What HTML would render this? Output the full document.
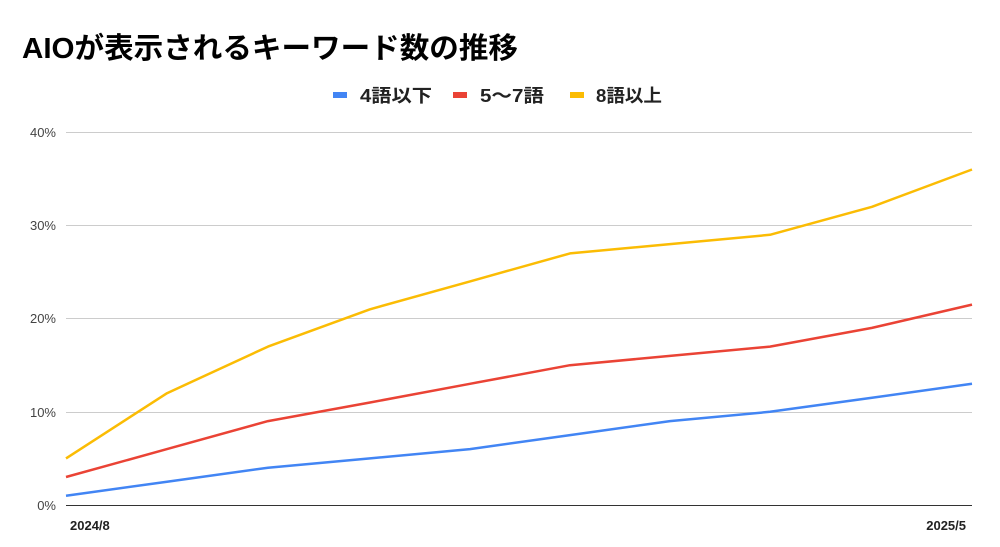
<!DOCTYPE html>
<html><head><meta charset="utf-8"><style>
body{margin:0;background:#fff;}
svg text{font-family:"Liberation Sans","Noto Sans CJK JP",sans-serif;}
</style></head><body>
<svg width="1000" height="542" viewBox="0 0 1000 542" xmlns="http://www.w3.org/2000/svg">
<rect width="1000" height="542" fill="#fff"/>
<text x="22" y="58" font-size="29" font-weight="bold" fill="#000" textLength="496" lengthAdjust="spacingAndGlyphs">AIOが表示されるキーワード数の推移</text>
<rect x="333" y="92" width="14" height="6" fill="#4285f4"/>
<text x="360" y="102" font-size="18" font-weight="bold" fill="#222" textLength="72" lengthAdjust="spacingAndGlyphs">4語以下</text>
<rect x="453" y="92" width="14" height="6" fill="#ea4335"/>
<text x="480" y="102" font-size="18" font-weight="bold" fill="#222" textLength="64" lengthAdjust="spacingAndGlyphs">5〜7語</text>
<rect x="570" y="92" width="14" height="6" fill="#fbbc04"/>
<text x="596" y="102" font-size="18" font-weight="bold" fill="#222" textLength="66" lengthAdjust="spacingAndGlyphs">8語以上</text>
<g stroke="#ccc" stroke-width="1">
<line x1="66" y1="132.5" x2="972" y2="132.5"/>
<line x1="66" y1="225.5" x2="972" y2="225.5"/>
<line x1="66" y1="318.5" x2="972" y2="318.5"/>
<line x1="66" y1="412.5" x2="972" y2="412.5"/>
</g>
<line x1="66" y1="505.5" x2="972" y2="505.5" stroke="#333" stroke-width="1"/>
<g font-size="13" fill="#444" text-anchor="end">
<text x="56" y="137">40%</text>
<text x="56" y="230">30%</text>
<text x="56" y="323">20%</text>
<text x="56" y="417">10%</text>
<text x="56" y="510">0%</text>
</g>
<text x="70" y="530" font-size="13" font-weight="bold" fill="#222">2024/8</text>
<text x="966" y="530" font-size="13" font-weight="bold" fill="#222" text-anchor="end">2025/5</text>
<g fill="none" stroke-width="2.5" stroke-linejoin="round">
<polyline stroke="#fbbc04" points="66,458.4 167,393.2 268,346.6 370,309.3 470,281.4 570,253.4 670,244.1 770,234.8 872,206.8 972,169.5"/>
<polyline stroke="#ea4335" points="66,477.0 167,449.1 268,421.1 370,402.5 470,383.8 570,365.2 670,355.9 770,346.6 872,327.9 972,304.6"/>
<polyline stroke="#4285f4" points="66,495.7 167,481.7 268,467.7 370,458.4 470,449.1 570,435.1 670,421.1 770,411.8 872,397.8 972,383.8"/>
</g>
</svg>
</body></html>
